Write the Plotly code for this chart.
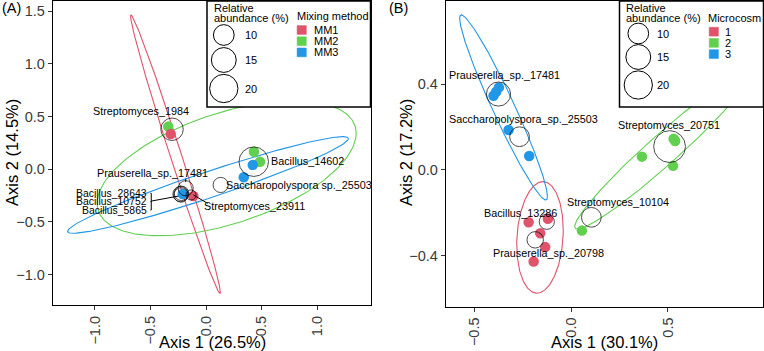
import numpy as np
import plotly.graph_objects as go

# ---------------- data ----------------
RED, GREEN, BLUE = "#DF536B", "#61D04F", "#2297E6"

# Panel A: samples (coloured points) by mixing method
a_pts_x = [-0.34, -0.318, 0.432, 0.486, 0.421, 0.34, -0.21, -0.114]
a_pts_y = [0.405, 0.335, 0.167, 0.072, 0.041, -0.076, -0.235, -0.254]
a_pts_grp = ["MM2", "MM1", "MM2", "MM2", "MM3", "MM3", "MM3", "MM1"]

# Panel A: taxa (open circles) with relative abundance (%)
a_taxa = ["Streptomyces_1984", "Bacillus_14602", "Saccharopolyspora sp._25503",
          "Prauserella_sp._17481", "Bacillus_28643", "Bacillus_10752",
          "Bacillus_5865", "Streptomyces_23911"]
a_taxa_x = [-0.306, 0.43, 0.132, -0.183, -0.230, -0.221, -0.225, -0.135]
a_taxa_y = [0.38, 0.072, -0.149, -0.180, -0.235, -0.228, -0.244, -0.244]
a_taxa_ab = [12, 22, 5, 5, 5, 4.5, 4.5, 2]
# label positions (ggrepel)
a_lab_x = [-0.583, 0.913, 0.836, -0.479, -0.511, -0.511, -0.511, 0.441]
a_lab_y = [0.553, 0.082, -0.149, -0.038, -0.228, -0.308, -0.387, -0.349]

# Panel A ellipses: group, centre, covariance-like matrix
a_ell_grp = ["MM1", "MM2", "MM3"]
a_ell_cx = [-0.275, 0.186, 0.018]
a_ell_cy = [0.143, 0.0095, -0.149]
a_ell_sxx = [0.1631, 1.361, 1.599]
a_ell_syy = [1.748, 0.411, 0.2104]
a_ell_sxy = [-0.5293, 0.3877, 0.5563]

# Panel B: samples by microcosm
b_pts_x = [-0.403, -0.389, -0.375, -0.325, -0.218,
           0.366, 0.530, 0.538, 0.527, 0.055,
           -0.221, -0.121, -0.161, -0.135, -0.195]
b_pts_y = [0.346, 0.365, 0.385, 0.186, 0.065,
           0.062, 0.145, 0.135, 0.019, -0.283,
           -0.244, -0.228, -0.295, -0.360, -0.427]
b_pts_grp = ["3", "3", "3", "3", "3", "2", "2", "2", "2", "2", "1", "1", "1", "1", "1"]

b_taxa = ["Prauserella_sp._17481", "Saccharopolyspora_sp._25503", "Streptomyces_20751",
          "Streptomyces_10104", "Bacillus_13286", "Prauserella_sp._20798"]
b_taxa_x = [-0.377, -0.268, 0.509, 0.104, -0.127, -0.187]
b_taxa_y = [0.354, 0.155, 0.109, -0.221, -0.242, -0.326]
b_taxa_ab = [14, 9, 26, 9, 5, 6]
b_lab_x = [-0.348, -0.25, 0.507, 0.2435, -0.264, -0.118]
b_lab_y = [0.443, 0.236, 0.21, -0.148, -0.202, -0.388]

b_ell_grp = ["1", "2", "3"]
b_ell_cx = [-0.1622, 0.47, -0.3508]
b_ell_cy = [-0.3147, 0.0895, 0.2914]
b_ell_sxx = [0.01451, 0.2045, 0.05161]
b_ell_syy = [0.0677, 0.1332, 0.1864]
b_ell_sxy = [0.004036, 0.1596, -0.09427]

a_groups = ["MM1", "MM2", "MM3"]
b_groups = ["1", "2", "3"]
group_colors = [RED, GREEN, BLUE]
size_breaks = [10, 15, 20]

a_xticks = [-1.0, -0.5, 0.0, 0.5, 1.0]
a_yticks = [-1.0, -0.5, 0.0, 0.5, 1.0, 1.5]
b_xticks = [-0.5, 0.0, 0.5]
b_yticks = [-0.4, 0.0, 0.4]

# ---------------- helpers ----------------
W, H = 764, 351
FONT = "Liberation Sans, Arial, Helvetica, sans-serif"


def PX(p):
    return p / W


def PY(p):
    return 1 - p / H


def diam(v):
    return 7.35 * np.asarray(v, dtype=float) ** 0.45


def ellipse(cx, cy, sxx, syy, sxy, n=240):
    L = np.linalg.cholesky(np.array([[sxx, sxy], [sxy, syy]]))
    t = np.linspace(0, 2 * np.pi, n)
    xy = L @ np.vstack([np.cos(t), np.sin(t)])
    return cx + xy[0], cy + xy[1]


fig = go.Figure()

panels = [
    dict(xa="x", ya="y", groups=a_groups,
         ell=(a_ell_grp, a_ell_cx, a_ell_cy, a_ell_sxx, a_ell_syy, a_ell_sxy),
         pts=(a_pts_x, a_pts_y, a_pts_grp),
         taxa=(a_taxa, a_taxa_x, a_taxa_y, a_taxa_ab)),
    dict(xa="x2", ya="y2", groups=b_groups,
         ell=(b_ell_grp, b_ell_cx, b_ell_cy, b_ell_sxx, b_ell_syy, b_ell_sxy),
         pts=(b_pts_x, b_pts_y, b_pts_grp),
         taxa=(b_taxa, b_taxa_x, b_taxa_y, b_taxa_ab)),
]

for p in panels:
    g, cx, cy, sxx, syy, sxy = p["ell"]
    for i in range(len(g)):
        ex, ey = ellipse(cx[i], cy[i], sxx[i], syy[i], sxy[i])
        col = group_colors[p["groups"].index(g[i])]
        fig.add_trace(go.Scatter(x=ex, y=ey, mode="lines", xaxis=p["xa"], yaxis=p["ya"],
                                 line=dict(color=col, width=1.1), hoverinfo="skip",
                                 showlegend=False))
    px_, py_, pg = p["pts"]
    cols = [group_colors[p["groups"].index(k)] for k in pg]
    fig.add_trace(go.Scatter(x=px_, y=py_, mode="markers", xaxis=p["xa"], yaxis=p["ya"],
                             marker=dict(color=cols, size=10.5, line=dict(width=0)),
                             showlegend=False))
    names, tx, ty, tab = p["taxa"]
    fig.add_trace(go.Scatter(x=tx, y=ty, mode="markers", xaxis=p["xa"], yaxis=p["ya"],
                             text=names,
                             marker=dict(color="rgba(0,0,0,0)", size=diam(tab),
                                         line=dict(color="black", width=1)),
                             showlegend=False))

# ggrepel segments for panel A
seg_x = [[-0.114, 0.015], [-0.493, -0.25], [-0.493, -0.493], [-0.500, -0.493],
         [-0.500, -0.493], [-0.500, -0.493], [-0.183, -0.183]]
seg_y = [[-0.244, -0.324], [-0.302, -0.255], [-0.228, -0.387], [-0.228, -0.228],
         [-0.308, -0.308], [-0.387, -0.387], [-0.088, -0.12]]
for sx, sy in zip(seg_x, seg_y):
    fig.add_trace(go.Scatter(x=sx, y=sy, mode="lines", xaxis="x", yaxis="y",
                             line=dict(color="black", width=1), hoverinfo="skip",
                             showlegend=False))

annotations = []
for i, name in enumerate(a_taxa):
    stacked = name.startswith("Bacillus_") and name != "Bacillus_14602"
    annotations.append(dict(x=a_lab_x[i], y=a_lab_y[i], xref="x", yref="y", text=name,
                            showarrow=False, xanchor="right" if stacked else "center",
                            yanchor="middle",
                            font=dict(size=10.4 if stacked else 10.8, color="black", family=FONT)))
for i, name in enumerate(b_taxa):
    annotations.append(dict(x=b_lab_x[i], y=b_lab_y[i], xref="x2", yref="y2", text=name,
                            showarrow=False, xanchor="center", yanchor="middle",
                            font=dict(size=10.8, color="black", family=FONT)))


def ptext(txt, x, y, size, xanchor="left", angle=0, color="black"):
    annotations.append(dict(x=PX(x), y=PY(y), xref="paper", yref="paper", text=txt,
                            showarrow=False, xanchor=xanchor, yanchor="middle",
                            textangle=angle, font=dict(size=size, color=color, family=FONT)))


# panel tags & axis titles
ptext("(A)", 0, 8, 14.5)
ptext("(B)", 387, 8, 14.5)
ptext("Axis 1 (26.5%)", 212, 342, 16.5, "center")
ptext("Axis 1 (30.1%)", 604.5, 342, 16.5, "center")
ptext("Axis 2 (14.5%)", 12, 153, 16.5, "center", -90)
ptext("Axis 2 (17.2%)", 406, 153, 16.5, "center", -90)

shapes = []


def rect(x0, y0, x1, y1, line_col="black", fill=None, lw=1.3):
    shapes.append(dict(type="rect", xref="paper", yref="paper", x0=PX(x0), x1=PX(x1),
                       y0=PY(y1), y1=PY(y0), line=dict(color=line_col, width=lw),
                       fillcolor=fill if fill else "rgba(0,0,0,0)", layer="above"))


def circ(cx, cy, d):
    r = d / 2
    shapes.append(dict(type="circle", xref="paper", yref="paper", x0=PX(cx - r), x1=PX(cx + r),
                       y0=PY(cy + r), y1=PY(cy - r), line=dict(color="black", width=1),
                       layer="above"))


LF = 11.0
# legends
legends = [
    dict(box=(207, 1, 370.5, 107), tx=211.5, circ_x=223.8, circ_y=[35, 60, 88.5], lab_x=243,
         title="Mixing method", title_x=295, title_y=16, sq_x=301.7, sq_y=[30, 41.2, 52.4],
         item_x=311.5, items=a_groups),
    dict(box=(619.5, 1, 763.5, 107), tx=623.5, circ_x=638.3, circ_y=[33.5, 57, 85], lab_x=655,
         title="Microcosm", title_x=706, title_y=18.5, sq_x=713.8, sq_y=[31.7, 42.9, 54.1],
         item_x=722.5, items=b_groups),
]
for L in legends:
    shapes.append(dict(type="rect", xref="paper", yref="paper", x0=PX(L["box"][0]),
                       x1=PX(L["box"][2]), y0=PY(L["box"][3]), y1=PY(L["box"][1]),
                       line=dict(color="black", width=1.5), fillcolor="white", layer="above"))
    ptext("Relative", L["tx"], 7.5, LF)
    ptext("abundance (%)", L["tx"], 17.8, LF)
    for v, cyy, d in zip(size_breaks, L["circ_y"], diam(size_breaks)):
        circ(L["circ_x"], cyy, d)
        ptext(str(v), L["lab_x"], cyy, LF)
    ptext(L["title"], L["title_x"], L["title_y"], LF)
    for it, sy, col in zip(L["items"], L["sq_y"], group_colors):
        rect(L["sq_x"] - 4.6, sy - 4.4, L["sq_x"] + 4.6, sy + 4.4, line_col=col, fill=col, lw=0.5)
        ptext(it, L["item_x"], sy, LF)

axis_common = dict(showgrid=False, zeroline=False, showline=True, linecolor="black",
                   linewidth=1.4, mirror=True, ticks="outside", ticklen=4, tickwidth=1,
                   tickcolor="#333333", tickfont=dict(size=14.5, color="#3a3a3a", family=FONT))

fig.update_layout(
    width=W, height=H, margin=dict(l=0, r=0, t=0, b=0),
    paper_bgcolor="white", plot_bgcolor="white", showlegend=False,
    xaxis=dict(domain=[PX(53), PX(371)], range=[-1.378, 1.486], tickvals=a_xticks,
               tickformat=".1f", tickangle=-90, anchor="y", **axis_common),
    yaxis=dict(domain=[PY(305), PY(1)], range=[-1.289, 1.598], tickvals=a_yticks,
               tickformat=".1f", anchor="x", **axis_common),
    xaxis2=dict(domain=[PX(446), PX(763)], range=[-0.649, 0.993], tickvals=b_xticks,
                tickformat=".1f", tickangle=-90, anchor="y2", **axis_common),
    yaxis2=dict(domain=[PY(306.5), PY(1)], range=[-0.637, 0.788], tickvals=b_yticks,
                tickformat=".1f", anchor="x2", **axis_common),
    annotations=annotations, shapes=shapes,
)

fig.write_html("out.html")
